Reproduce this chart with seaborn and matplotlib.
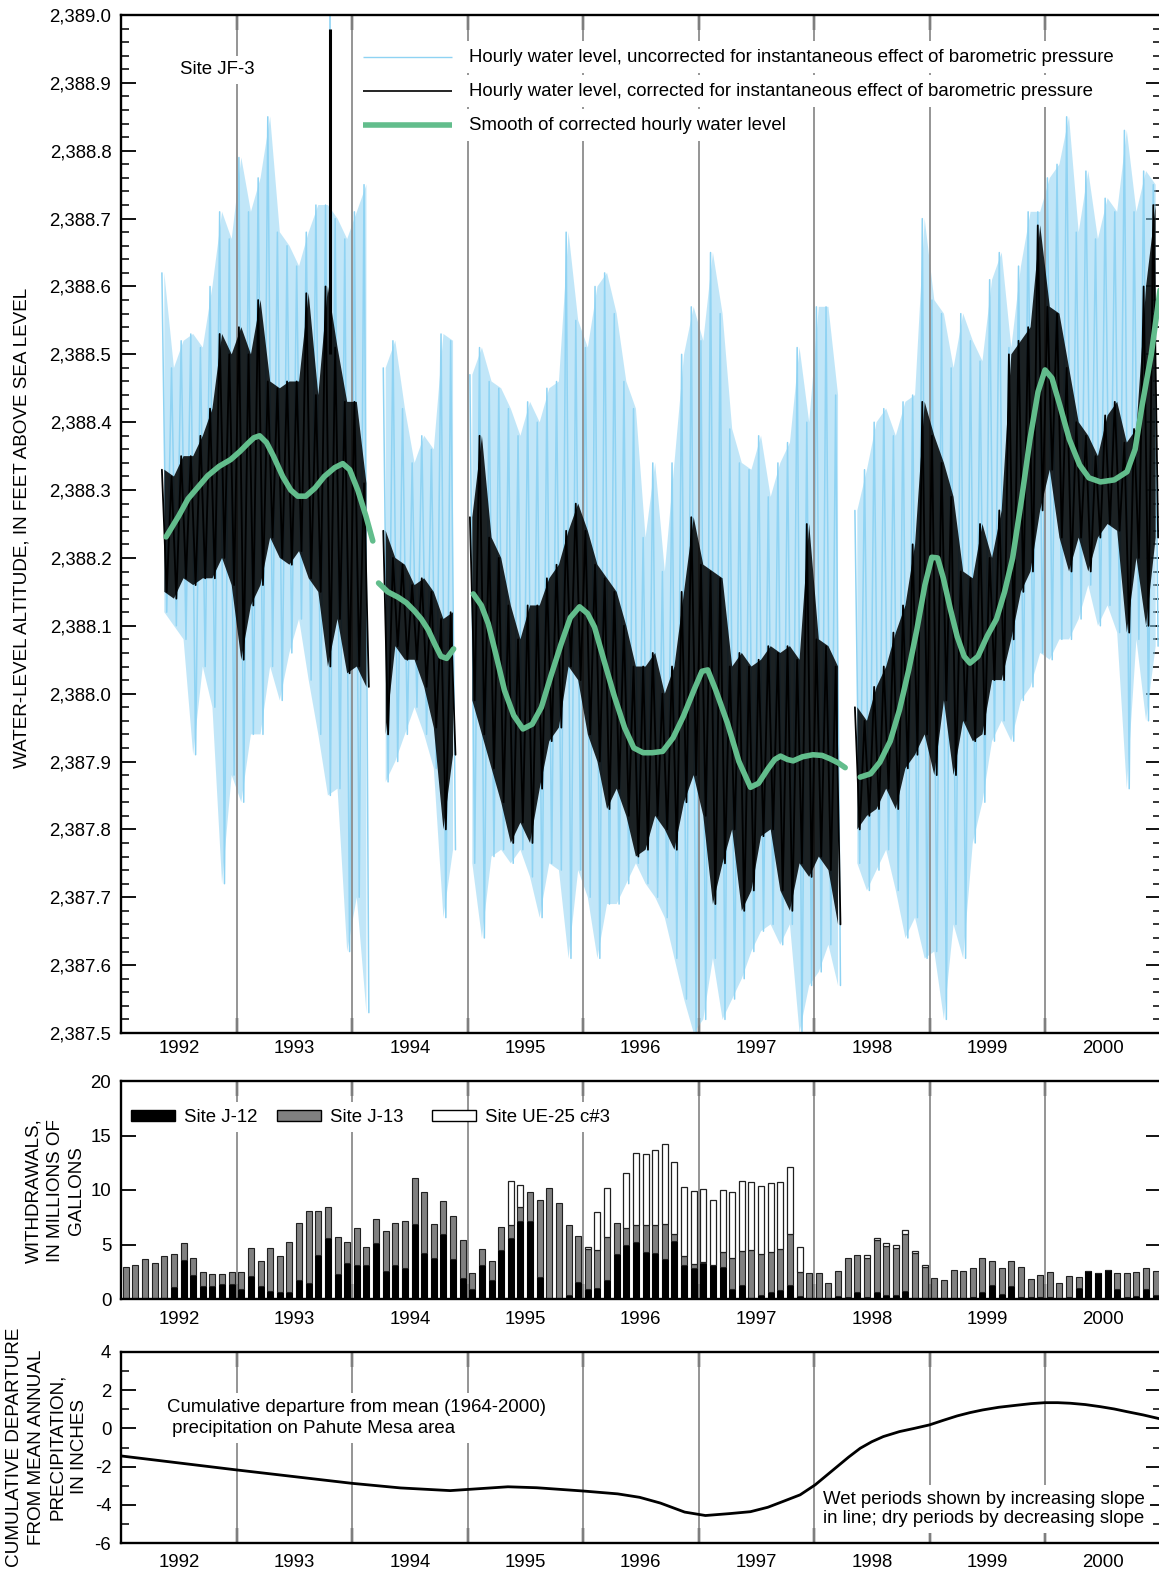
import numpy as np
import pandas as pd
import matplotlib
matplotlib.use("Agg")
import matplotlib.pyplot as plt
from matplotlib.patches import Rectangle
from matplotlib.ticker import FuncFormatter, MultipleLocator
import seaborn as sns

sns.set_theme(style="ticks")
plt.rcParams["font.family"] = ["Liberation Sans", "DejaVu Sans"]
plt.rcParams["axes.edgecolor"] = "black"
plt.rcParams["xtick.color"] = "black"
plt.rcParams["ytick.color"] = "black"
plt.rcParams["text.color"] = "black"
plt.rcParams["axes.unicode_minus"] = False

nan = np.nan
FS = 13.4

# ---------------------------------------------------------------- data
year_labels = ["1992", "1993", "1994", "1995", "1996", "1997", "1998", "1999", "2000"]

# Monthly range of hourly water level (Jan 1992 .. Dec 2000), feet above sea level
unc_hi = [nan, nan, nan, nan, 2388.62, 2388.48, 2388.52, 2388.53, 2388.51, 2388.60, 2388.71, 2388.67,
          2388.79, 2388.71, 2388.76, 2388.85, 2388.68, 2388.66, 2388.63, 2388.68, 2388.72, 2388.72, 2388.70, 2388.67,
          2388.71, 2388.75, nan, 2388.48, 2388.52, 2388.42, 2388.34, 2388.38, 2388.36, 2388.53, 2388.52, nan,
          2388.47, 2388.51, 2388.46, 2388.45, 2388.42, 2388.38, 2388.43, 2388.40, 2388.45, 2388.46, 2388.68, 2388.55,
          2388.51, 2388.60, 2388.62, 2388.56, 2388.46, 2388.42, 2388.23, 2388.34, 2388.18, 2388.34, 2388.50, 2388.57,
          2388.52, 2388.65, 2388.56, 2388.39, 2388.34, 2388.33, 2388.38, 2388.29, 2388.34, 2388.37, 2388.51, 2388.40,
          2388.57, 2388.57, 2388.44, nan, 2388.27, 2388.33, 2388.40, 2388.42, 2388.38, 2388.43, 2388.44, 2388.70,
          2388.58, 2388.56, 2388.48, 2388.56, 2388.52, 2388.49, 2388.61, 2388.65, 2388.51, 2388.63, 2388.71, 2388.71,
          2388.76, 2388.78, 2388.85, 2388.68, 2388.77, 2388.67, 2388.73, 2388.71, 2388.83, 2388.71, 2388.77, 2388.75]
unc_lo = [nan, nan, nan, nan, 2388.12, 2388.10, 2388.08, 2387.91, 2388.04, 2387.98, 2387.72, 2387.88,
          2387.84, 2387.94, 2387.94, 2388.04, 2387.99, 2388.06, 2388.11, 2388.02, 2387.94, 2387.85, 2387.86, 2387.62,
          2387.70, 2387.53, nan, 2387.87, 2387.90, 2387.94, 2387.98, 2387.94, 2387.89, 2387.67, 2387.77, nan,
          2387.75, 2387.64, 2387.76, 2387.77, 2387.75, 2387.77, 2387.73, 2387.67, 2387.75, 2387.74, 2387.61, 2387.74,
          2387.70, 2387.61, 2387.69, 2387.69, 2387.72, 2387.75, 2387.72, 2387.70, 2387.67, 2387.61, 2387.55, 2387.50,
          2387.52, 2387.61, 2387.52, 2387.55, 2387.58, 2387.62, 2387.65, 2387.66, 2387.63, 2387.66, 2387.50, 2387.57,
          2387.59, 2387.63, 2387.57, nan, 2387.75, 2387.71, 2387.74, 2387.77, 2387.71, 2387.64, 2387.67, 2387.61,
          2387.62, 2387.52, 2387.66, 2387.61, 2387.78, 2387.84, 2387.93, 2387.96, 2387.93, 2387.99, 2388.01, 2388.06,
          2388.05, 2388.08, 2388.08, 2388.11, 2388.16, 2388.10, 2388.13, 2388.09, 2387.86, 2388.08, 2387.96, 2388.07]
cor_hi = [nan, nan, nan, nan, 2388.33, 2388.32, 2388.35, 2388.35, 2388.38, 2388.42, 2388.53, 2388.50,
          2388.54, 2388.50, 2388.58, 2388.46, 2388.45, 2388.46, 2388.46, 2388.59, 2388.44, 2388.60, 2388.51, 2388.43,
          2388.43, 2388.31, nan, 2388.24, 2388.20, 2388.19, 2388.16, 2388.17, 2388.15, 2388.11, 2388.12, nan,
          2388.26, 2388.38, 2388.23, 2388.20, 2388.13, 2388.08, 2388.13, 2388.13, 2388.17, 2388.19, 2388.24, 2388.28,
          2388.24, 2388.19, 2388.17, 2388.15, 2388.10, 2388.04, 2388.04, 2388.06, 2388.00, 2388.04, 2388.15, 2388.26,
          2388.19, 2388.18, 2388.17, 2388.04, 2388.06, 2388.04, 2388.05, 2388.07, 2388.06, 2388.07, 2388.05, 2388.25,
          2388.08, 2388.07, 2388.04, nan, 2387.98, 2387.96, 2388.01, 2388.04, 2388.09, 2388.13, 2388.22, 2388.43,
          2388.38, 2388.34, 2388.29, 2388.18, 2388.17, 2388.25, 2388.20, 2388.27, 2388.50, 2388.52, 2388.54, 2388.69,
          2388.57, 2388.56, 2388.48, 2388.40, 2388.38, 2388.35, 2388.41, 2388.43, 2388.37, 2388.39, 2388.60, 2388.72]
cor_lo = [nan, nan, nan, nan, 2388.15, 2388.14, 2388.17, 2388.16, 2388.17, 2388.17, 2388.20, 2388.16,
          2388.05, 2388.13, 2388.16, 2388.23, 2388.20, 2388.19, 2388.21, 2388.17, 2388.15, 2388.04, 2388.11, 2388.03,
          2388.04, 2388.01, nan, 2387.94, 2388.07, 2388.05, 2388.05, 2388.01, 2387.95, 2387.80, 2387.91, nan,
          2387.99, 2387.94, 2387.89, 2387.84, 2387.78, 2387.81, 2387.78, 2387.86, 2387.93, 2387.95, 2388.04, 2388.02,
          2387.94, 2387.90, 2387.83, 2387.86, 2387.82, 2387.76, 2387.77, 2387.82, 2387.80, 2387.77, 2387.84, 2387.88,
          2387.82, 2387.69, 2387.75, 2387.80, 2387.68, 2387.71, 2387.79, 2387.80, 2387.71, 2387.68, 2387.75, 2387.73,
          2387.76, 2387.74, 2387.66, nan, 2387.80, 2387.82, 2387.83, 2387.86, 2387.83, 2387.89, 2387.91, 2387.94,
          2387.88, 2387.99, 2387.88, 2387.96, 2387.93, 2387.94, 2388.02, 2388.02, 2388.08, 2388.15, 2388.18, 2388.27,
          2388.33, 2388.23, 2388.18, 2388.23, 2388.18, 2388.23, 2388.25, 2388.24, 2388.09, 2388.20, 2388.10, 2388.23]

# Isolated high reading in late 1993
spike_t = [1993.81]
spike_unc = [2389.00]
spike_cor = [2388.98]

# Smooth of corrected hourly water level (four record segments)
smooth_t = [1992.39, 1992.50, 1992.58, 1992.67, 1992.75, 1992.85, 1992.95, 1993.03, 1993.10, 1993.15, 1993.20,
            1993.26, 1993.32, 1993.40, 1993.47, 1993.53, 1993.60, 1993.68, 1993.76, 1993.85, 1993.92, 1993.98,
            1994.05, 1994.12, 1994.18,
            1994.23, 1994.31, 1994.40, 1994.47, 1994.54, 1994.60, 1994.66, 1994.72, 1994.77, 1994.82, 1994.88,
            1995.05, 1995.12, 1995.18, 1995.25, 1995.32, 1995.40, 1995.48, 1995.56, 1995.64, 1995.72, 1995.81,
            1995.89, 1995.97, 1996.04, 1996.10, 1996.18, 1996.27, 1996.36, 1996.44, 1996.52, 1996.60, 1996.69,
            1996.78, 1996.87, 1996.96, 1997.03, 1997.08, 1997.15, 1997.25, 1997.35, 1997.45, 1997.52, 1997.60,
            1997.66, 1997.71, 1997.77, 1997.82, 1997.90, 1997.99, 1998.07, 1998.14, 1998.21, 1998.27,
            1998.40, 1998.49, 1998.57, 1998.66, 1998.74, 1998.82, 1998.89, 1998.96, 1999.02, 1999.07, 1999.12,
            1999.18, 1999.24, 1999.30, 1999.35, 1999.42, 1999.50, 1999.58, 1999.65, 1999.72, 1999.80, 1999.87,
            1999.94, 2000.00, 2000.06, 2000.13, 2000.21, 2000.30, 2000.38, 2000.48, 2000.60, 2000.71, 2000.78,
            2000.84, 2000.92, 2001.00]
smooth_v = [2388.231, 2388.262, 2388.287, 2388.305, 2388.321, 2388.335, 2388.345, 2388.357, 2388.369, 2388.377, 2388.380,
            2388.370, 2388.350, 2388.320, 2388.300, 2388.291, 2388.291, 2388.303, 2388.320, 2388.333, 2388.339, 2388.330,
            2388.300, 2388.262, 2388.225,
            2388.163, 2388.150, 2388.142, 2388.134, 2388.122, 2388.110, 2388.094, 2388.072, 2388.055, 2388.052, 2388.066,
            2388.147, 2388.130, 2388.103, 2388.055, 2388.005, 2387.968, 2387.948, 2387.955, 2387.980, 2388.025, 2388.073,
            2388.112, 2388.128, 2388.118, 2388.098, 2388.050, 2387.997, 2387.950, 2387.920, 2387.913, 2387.913, 2387.915,
            2387.935, 2387.967, 2388.005, 2388.033, 2388.035, 2388.005, 2387.957, 2387.900, 2387.862, 2387.868, 2387.889,
            2387.903, 2387.908, 2387.903, 2387.901, 2387.907, 2387.910, 2387.909, 2387.904, 2387.898, 2387.891,
            2387.877, 2387.882, 2387.899, 2387.930, 2387.976, 2388.035, 2388.094, 2388.160, 2388.201, 2388.200, 2388.170,
            2388.125, 2388.084, 2388.055, 2388.045, 2388.055, 2388.085, 2388.110, 2388.150, 2388.200, 2388.290, 2388.375,
            2388.445, 2388.477, 2388.465, 2388.424, 2388.375, 2388.337, 2388.318, 2388.312, 2388.315, 2388.327, 2388.360,
            2388.424, 2388.500, 2388.600]
smooth_seg = [1] * 25 + [2] * 11 + [3] * 43 + [4] * 36

# Monthly withdrawals, millions of gallons (Jan 1992 .. Dec 2000)
j12 = [0.0, 0.0, 0.0, 0.0, 0.1, 1.1, 3.6, 2.2, 1.2, 1.2, 1.4, 1.4,
       0.9, 2.1, 1.2, 0.7, 0.6, 0.6, 1.7, 1.5, 4.0, 5.6, 2.3, 3.3,
       3.1, 3.1, 5.1, 2.6, 3.1, 2.8, 6.9, 4.2, 3.8, 6.0, 3.7, 1.9,
       0.9, 3.1, 1.7, 4.5, 5.6, 7.2, 7.2, 2.0, 0.0, 0.0, 0.4, 1.6,
       0.9, 1.0, 1.7, 4.1, 5.0, 5.2, 4.3, 4.2, 3.7, 5.3, 3.1, 2.8,
       3.3, 3.1, 2.9, 0.9, 1.3, 0.1, 0.4, 0.6, 0.8, 1.3, 0.3, 0.0,
       0.0, 0.0, 0.3, 0.2, 0.6, 0.2, 0.6, 0.4, 0.4, 0.7, 0.1, 0.0,
       0.0, 0.0, 0.0, 0.0, 0.2, 0.6, 1.3, 0.5, 1.2, 0.2, 0.2, 0.2,
       0.2, 0.0, 0.2, 1.0, 2.6, 2.4, 2.7, 0.9, 0.2, 0.3, 0.9, 0.4]
j13 = [2.9, 3.1, 3.7, 3.3, 3.8, 3.0, 1.5, 1.6, 1.3, 1.1, 0.9, 1.1,
       1.6, 2.6, 2.3, 4.0, 3.3, 4.6, 5.3, 6.6, 4.1, 2.8, 3.4, 1.9,
       3.4, 1.7, 2.2, 3.6, 3.9, 4.4, 4.2, 5.6, 3.1, 3.0, 3.9, 3.5,
       1.5, 1.5, 1.8, 2.1, 1.2, 1.2, 2.6, 7.1, 10.2, 8.8, 6.4, 4.2,
       3.7, 3.5, 4.0, 2.9, 1.5, 1.6, 2.5, 2.6, 3.2, 0.7, 0.8, 0.4,
       0.1, 0.0, 1.4, 2.9, 3.1, 4.4, 3.7, 3.7, 3.8, 4.7, 2.2, 2.4,
       2.4, 1.5, 2.3, 3.6, 3.4, 3.6, 4.8, 4.5, 4.3, 5.3, 4.1, 2.9,
       1.9, 1.7, 2.7, 2.6, 2.6, 3.2, 2.2, 2.3, 2.3, 2.7, 1.6, 2.0,
       2.3, 1.5, 1.9, 1.0, 0.0, 0.0, 0.0, 1.5, 2.2, 2.2, 1.9, 2.2]
ue25 = [0.0] * 40 + [4.0, 2.1, 0.0, 0.0, 0.0, 0.0, 0.0, 0.0,
       0.2, 3.5, 4.5, 0.0, 5.1, 6.6, 6.5, 6.9, 7.3, 6.6, 6.4, 6.7,
       6.7, 6.0, 5.7, 6.0, 6.4, 6.2, 6.3, 6.3, 6.1, 6.1, 2.3, 0.0,
       0.0, 0.0, 0.0, 0.0, 0.0, 0.2, 0.2, 0.2, 0.3, 0.3, 0.2, 0.2] + [0.0] * 24

# Cumulative departure from mean (1964-2000) precipitation, inches
precip_t = [1992.0, 1993.0, 1994.0, 1994.42, 1994.85, 1995.1, 1995.35, 1995.6, 1996.0, 1996.3, 1996.49,
            1996.67, 1996.88, 1997.06, 1997.27, 1997.45, 1997.6, 1997.73, 1997.88, 1998.01, 1998.1, 1998.2,
            1998.3, 1998.4, 1998.5, 1998.6, 1998.74, 1998.87, 1999.0, 1999.12, 1999.24, 1999.35, 1999.46,
            1999.6, 1999.76, 1999.88, 2000.0, 2000.11, 2000.22, 2000.35, 2000.48, 2000.6, 2000.71, 2000.85, 2001.0]
precip_v = [-1.44, -2.17, -2.87, -3.11, -3.25, -3.15, -3.05, -3.10, -3.27, -3.42, -3.60,
            -3.90, -4.37, -4.55, -4.45, -4.35, -4.12, -3.82, -3.47, -2.95, -2.50, -2.00,
            -1.50, -1.04, -0.70, -0.43, -0.17, 0.00, 0.18, 0.42, 0.65, 0.82, 0.96,
            1.10, 1.21, 1.29, 1.34, 1.34, 1.31, 1.24, 1.13, 1.01, 0.87, 0.70, 0.49]

# ---------------------------------------------------------------- layout
W, H = 1159, 1571
fig = plt.figure(figsize=(W / 100, H / 100), dpi=100)


def axes_px(left, top, right, bottom):
    return fig.add_axes([left / W, 1 - bottom / H, (right - left) / W, (bottom - top) / H])


ax1 = axes_px(121, 15, 1160.5, 1033)
ax2 = axes_px(121, 1081, 1160.5, 1299)
ax3 = axes_px(121, 1351.7, 1160.5, 1543.3)

GRID = "#8c8c8c"
BLUE = "#8fd3f3"
GREEN = "#62bd8c"


def style_axes(ax, xpad):
    ax.set_xlim(1992, 2001)
    ax.set_facecolor("white")
    for s in ax.spines.values():
        s.set_linewidth(1.7)
        s.set_color("black")
    ax.set_xticks(range(1993, 2001))
    ax.set_xticklabels([])
    ax.set_xticks(np.arange(1992.5, 2001, 1.0), minor=True)
    ax.set_xticklabels(year_labels, minor=True)
    ax.tick_params(axis="x", which="major", direction="in", length=11, width=1.7,
                   top=True, bottom=True)
    ax.tick_params(axis="x", which="minor", length=0, pad=xpad, labelsize=FS)
    ax.tick_params(axis="y", which="both", direction="in", left=True, right=True,
                   labelsize=FS, pad=7)
    ax.tick_params(axis="y", which="major", length=11, width=1.3)
    ax.tick_params(axis="y", which="minor", length=6, width=1.1)
    for yr in range(1993, 2001):
        ax.axvline(yr, color=GRID, lw=1.3, zorder=1.5)
    ax.grid(False)


def zigzag(hi, lo):
    hi = np.asarray(hi, float)
    lo = np.asarray(lo, float)
    m = np.arange(len(hi))
    t = np.empty(2 * len(hi))
    v = np.empty(2 * len(hi))
    t[0::2] = 1992 + (m + 0.25) / 12
    t[1::2] = 1992 + (m + 0.75) / 12
    v[0::2] = hi
    v[1::2] = lo
    return t, v


t_mid = 1992 + (np.arange(108) + 0.5) / 12

# ---------------------------------------------------------------- water level
style_axes(ax1, 5)
ax1.set_ylim(2387.5, 2389.0)
ax1.yaxis.set_major_locator(MultipleLocator(0.1))
ax1.yaxis.set_minor_locator(MultipleLocator(0.02))
ax1.yaxis.set_major_formatter(FuncFormatter(lambda v, p: f"{v:,.1f}"))

# uncorrected: light band plus spiky outline
ax1.fill_between(t_mid, unc_lo, unc_hi, color=BLUE, alpha=0.55, lw=0, zorder=1)
tu, vu = zigzag(unc_hi, unc_lo)
ax1.plot(tu, vu, color=BLUE, lw=1.1, zorder=1.1)
ax1.vlines(spike_t, 2388.6, spike_unc, color=BLUE, lw=1.2, zorder=1.1)

# corrected: dark band plus spiky outline
ax1.fill_between(t_mid, cor_lo, cor_hi, color="black", alpha=0.86, lw=0, zorder=2)
tc, vc = zigzag(cor_hi, cor_lo)
ax1.plot(tc, vc, color="black", lw=1.3, zorder=2.1)
ax1.vlines(spike_t, 2388.5, spike_cor, color="black", lw=2.2, zorder=2.1)

smooth = pd.DataFrame({"t": smooth_t, "v": smooth_v, "seg": smooth_seg})
sns.lineplot(data=smooth, x="t", y="v", units="seg", estimator=None, sort=False,
             color=GREEN, lw=4.0, ax=ax1, zorder=3, legend=False)
ax1.set_xlabel("")
ax1.set_ylabel("")

# legend drawn by hand in axes coordinates
ax_w, ax_h = 1039.5, 1018.0
legend_rows = [
    (BLUE, 1.0, "Hourly water level, uncorrected for instantaneous effect of barometric pressure"),
    ("black", 1.2, "Hourly water level, corrected for instantaneous effect of barometric pressure"),
    (GREEN, 4.0, "Smooth of corrected hourly water level"),
]
for i, (col, lw, label) in enumerate(legend_rows):
    yy = 1 - (57 + 34 * i - 15) / ax_h
    ax1.plot([(363 - 121) / ax_w, (452 - 121) / ax_w], [yy, yy], color=col, lw=lw,
             transform=ax1.transAxes, zorder=6, solid_capstyle="butt")
    ax1.text((469 - 121) / ax_w, yy, label, transform=ax1.transAxes, fontsize=FS,
             va="center", ha="left", zorder=6,
             bbox=dict(facecolor="white", edgecolor="none", pad=5.5))
ax1.text((180 - 121) / ax_w, 1 - (70 - 15) / ax_h, "Site JF-3", transform=ax1.transAxes,
         fontsize=FS, va="center", ha="left", zorder=6,
         bbox=dict(facecolor="white", edgecolor="none", pad=4))

# ---------------------------------------------------------------- withdrawals
style_axes(ax2, 8.6)
ax2.set_ylim(0, 20)
ax2.yaxis.set_major_locator(MultipleLocator(5))
ax2.yaxis.set_minor_locator(plt.NullLocator())
bw = 0.62 / 12
a12 = np.array(j12)
a13 = np.array(j13)
a25 = np.array(ue25)
ax2.bar(t_mid, a12, width=bw, color="black", edgecolor="black", lw=0.8, zorder=2)
ax2.bar(t_mid, a13, bottom=a12, width=bw, color="#808080", edgecolor="#202020", lw=0.8, zorder=2)
mask = a25 > 0
ax2.bar(t_mid[mask], a25[mask], bottom=(a12 + a13)[mask], width=bw, color="white",
        edgecolor="#202020", lw=0.9, zorder=2)

mid_w, mid_h = 1039.5, 218.0
legend_bars = [("black", 131, "Site J-12"), ("#808080", 277, "Site J-13"), ("white", 432, "Site UE-25 c#3")]
for col, x0, label in legend_bars:
    ax2.add_patch(Rectangle(((x0 - 121) / mid_w, 1 - (1121 - 1081) / mid_h), 44 / mid_w, 11 / mid_h,
                            transform=ax2.transAxes, facecolor=col, edgecolor="black", lw=1.0,
                            zorder=6))
    ax2.text((x0 + 53 - 121) / mid_w, 1 - (1117 - 1081) / mid_h, label, transform=ax2.transAxes,
             fontsize=FS, va="center", ha="left", zorder=6,
             bbox=dict(facecolor="white", edgecolor="none", pad=5))

# ---------------------------------------------------------------- precipitation
style_axes(ax3, 7.9)
ax3.set_ylim(-6, 4)
ax3.yaxis.set_major_locator(MultipleLocator(2))
ax3.yaxis.set_minor_locator(MultipleLocator(1))
sns.lineplot(x=precip_t, y=precip_v, color="black", lw=2.0, ax=ax3, zorder=3, sort=False)
ax3.set_xlabel("")
ax3.set_ylabel("")
bot_h = 191.6
ax3.text((167 - 121) / ax_w, 1 - (1418 - 1351.7) / bot_h,
         "Cumulative departure from mean (1964-2000)\n precipitation on Pahute Mesa area",
         transform=ax3.transAxes, fontsize=FS, va="center", ha="left", linespacing=1.3, zorder=6,
         bbox=dict(facecolor="white", edgecolor="none", pad=4))
ax3.text((823 - 121) / ax_w, 1 - (1509 - 1351.7) / bot_h,
         "Wet periods shown by increasing slope\nin line; dry periods by decreasing slope",
         transform=ax3.transAxes, fontsize=FS, va="center", ha="left", linespacing=1.15, zorder=6,
         bbox=dict(facecolor="white", edgecolor="none", pad=4))

# ---------------------------------------------------------------- axis titles
fig.text(22 / W, 1 - 528 / H, "WATER-LEVEL ALTITUDE, IN FEET ABOVE SEA LEVEL",
         rotation=90, ha="center", va="center", fontsize=13.6)
fig.text(55 / W, 1 - 1191 / H, "WITHDRAWALS,\nIN MILLIONS OF\nGALLONS",
         rotation=90, ha="center", va="center", fontsize=13.6, multialignment="center",
         linespacing=1.33)
fig.text(47 / W, 1 - 1447 / H, "CUMULATIVE DEPARTURE\nFROM MEAN ANNUAL\nPRECIPITATION,\nIN INCHES",
         rotation=90, ha="center", va="center", fontsize=13.6, multialignment="center",
         linespacing=1.38)

fig.savefig("out.png", dpi=100, facecolor="white")
